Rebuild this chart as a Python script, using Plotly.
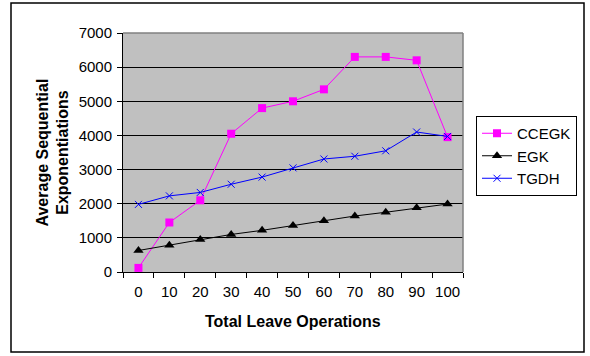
import plotly.graph_objects as go

# Number of leave operations (category labels on the x axis)
leave_ops = ["0", "10", "20", "30", "40", "50", "60", "70", "80", "90", "100"]

# Average sequential exponentiations per protocol
ccegk = [120, 1450, 2100, 4050, 4800, 5000, 5350, 6300, 6300, 6200, 3950]
egk = [630, 780, 950, 1100, 1220, 1360, 1500, 1640, 1750, 1880, 1990]
tgdh = [1980, 2230, 2330, 2570, 2780, 3050, 3310, 3390, 3550, 4100, 3970]

y_ticks = [0, 1000, 2000, 3000, 4000, 5000, 6000, 7000]

W, H = 590, 356
L, R, T, B = 123, 463, 33, 272  # plot area in pixels
pw, ph = R - L, B - T

def px(x):
    return (x - L) / pw

def py(y):
    return (B - y) / ph

font = "Liberation Sans, Arial, sans-serif"

fig = go.Figure()
fig.add_trace(go.Scatter(
    x=leave_ops, y=ccegk, name="CCEGK", mode="lines+markers",
    line=dict(color="#FF00FF", width=1),
    marker=dict(symbol="square", size=8, color="#FF00FF"),
))
fig.add_trace(go.Scatter(
    x=leave_ops, y=egk, name="EGK", mode="lines+markers",
    line=dict(color="#000000", width=1),
    marker=dict(symbol="triangle-up", size=9, color="#000000"),
))
fig.add_trace(go.Scatter(
    x=leave_ops, y=tgdh, name="TGDH", mode="lines+markers",
    line=dict(color="#0000FF", width=1),
    marker=dict(symbol="x-thin", size=7, line=dict(color="#0000FF", width=1)),
))

fig.update_layout(
    width=W, height=H,
    margin=dict(l=L, r=W - R, t=T, b=H - B, autoexpand=False),
    paper_bgcolor="white",
    plot_bgcolor="#C0C0C0",
    font=dict(family=font, size=15, color="black"),
    xaxis=dict(
        type="category", range=[-0.5, 10.5], tickson="boundaries",
        ticks="outside", ticklen=5, tickangle=0, automargin=False,
        ticklabelstandoff=6,
        tickcolor="black", showline=True, linecolor="black", linewidth=1,
        showgrid=False, tickfont=dict(size=15), fixedrange=True,
    ),
    yaxis=dict(
        range=[0, 7000], tickvals=y_ticks, ticks="outside", ticklen=5,
        automargin=False, ticklabelstandoff=2,
        tickcolor="black", showline=True, linecolor="black", linewidth=1,
        showgrid=True, gridcolor="black", gridwidth=1, zeroline=False,
        tickfont=dict(size=15),
    ),
    legend=dict(
        x=px(476), y=py(116), xanchor="left", yanchor="top",
        bgcolor="white", bordercolor="black", borderwidth=1,
        font=dict(size=15), tracegroupgap=0, itemwidth=30,
    ),
    showlegend=True,
    annotations=[
        dict(text="<b>Total Leave Operations</b>", x=0.5, y=py(321),
             xref="paper", yref="paper", showarrow=False,
             font=dict(size=16), xanchor="center", yanchor="middle"),
        dict(text="<b>Average Sequential<br>Exponentiations</b>", x=px(52),
             y=0.5, xref="paper", yref="paper", showarrow=False, textangle=-90,
             font=dict(size=16), xanchor="center", yanchor="middle"),
    ],
    shapes=[
        # outer chart border
        dict(type="rect", xref="paper", yref="paper",
             x0=px(11), x1=px(584), y0=py(352), y1=py(3),
             line=dict(color="black", width=1.5), fillcolor="rgba(0,0,0,0)"),
        # grey top and right edges of the plot area
        dict(type="line", xref="paper", yref="paper", x0=0, x1=1, y0=1, y1=1,
             line=dict(color="#808080", width=1.5)),
        dict(type="line", xref="paper", yref="paper", x0=1, x1=1, y0=0, y1=1,
             line=dict(color="#808080", width=1.5)),
    ],
)

fig.write_html("out.html")
